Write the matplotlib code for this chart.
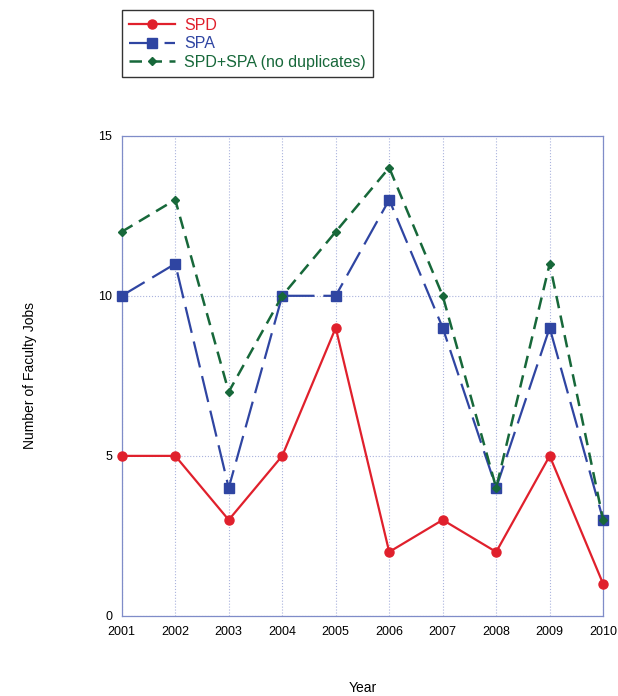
import matplotlib.pyplot as plt

plt.rcParams['font.family'] = ['Liberation Sans', 'DejaVu Sans']

years = [2001, 2002, 2003, 2004, 2005, 2006, 2007, 2008, 2009, 2010]
spd = [5, 5, 3, 5, 9, 2, 3, 2, 5, 1]
spa = [10, 11, 4, 10, 10, 13, 9, 4, 9, 3]
spd_spa = [12, 13, 7, 10, 12, 14, 10, 4, 11, 3]

red = '#e0202c'
blue = '#2f45a2'
green = '#17683a'
frame = '#7f8cc8'

fig = plt.figure(figsize=(6.18, 6.96), dpi=100)
ax = fig.add_axes([0.197, 0.115, 0.779, 0.69])

ax.plot(years, spd, color=red, lw=1.6, marker='o', ms=6.5, label='SPD',
        clip_on=False, zorder=3)
ax.plot(years, spa, color=blue, lw=1.6, marker='s', ms=6.5,
        dashes=(12, 4), label='SPA', clip_on=False, zorder=3)
ax.plot(years, spd_spa, color=green, lw=1.8, marker='D', ms=4,
        dashes=(5, 3), label='SPD+SPA (no duplicates)', clip_on=False, zorder=3)

ax.set_xlim(2001, 2010)
ax.set_ylim(0, 15)
ax.set_xticks(years)
ax.set_yticks([0, 5, 10, 15])
ax.tick_params(length=0, labelsize=9, pad=7)
ax.grid(True, color='#aab3dd', ls=':', lw=0.8)
for s in ax.spines.values():
    s.set_color(frame)
    s.set_linewidth(0.9)
ax.set_axisbelow(True)

fig.text(0.048, 0.46, 'Number of Faculty Jobs', rotation=90,
         ha='center', va='center', fontsize=10)
fig.text(0.587, 0.012, 'Year', ha='center', va='center', fontsize=10)

leg = fig.legend(loc='upper left', bbox_to_anchor=(0.197, 0.985),
                 labelcolor='linecolor', fontsize=11.5, frameon=True,
                 fancybox=False, edgecolor='black', handlelength=2.9,
                 borderpad=0.45, labelspacing=0.22, handletextpad=0.55,
                 borderaxespad=0)
leg.get_frame().set_linewidth(1.0)

fig.savefig('out.png', dpi=100)
